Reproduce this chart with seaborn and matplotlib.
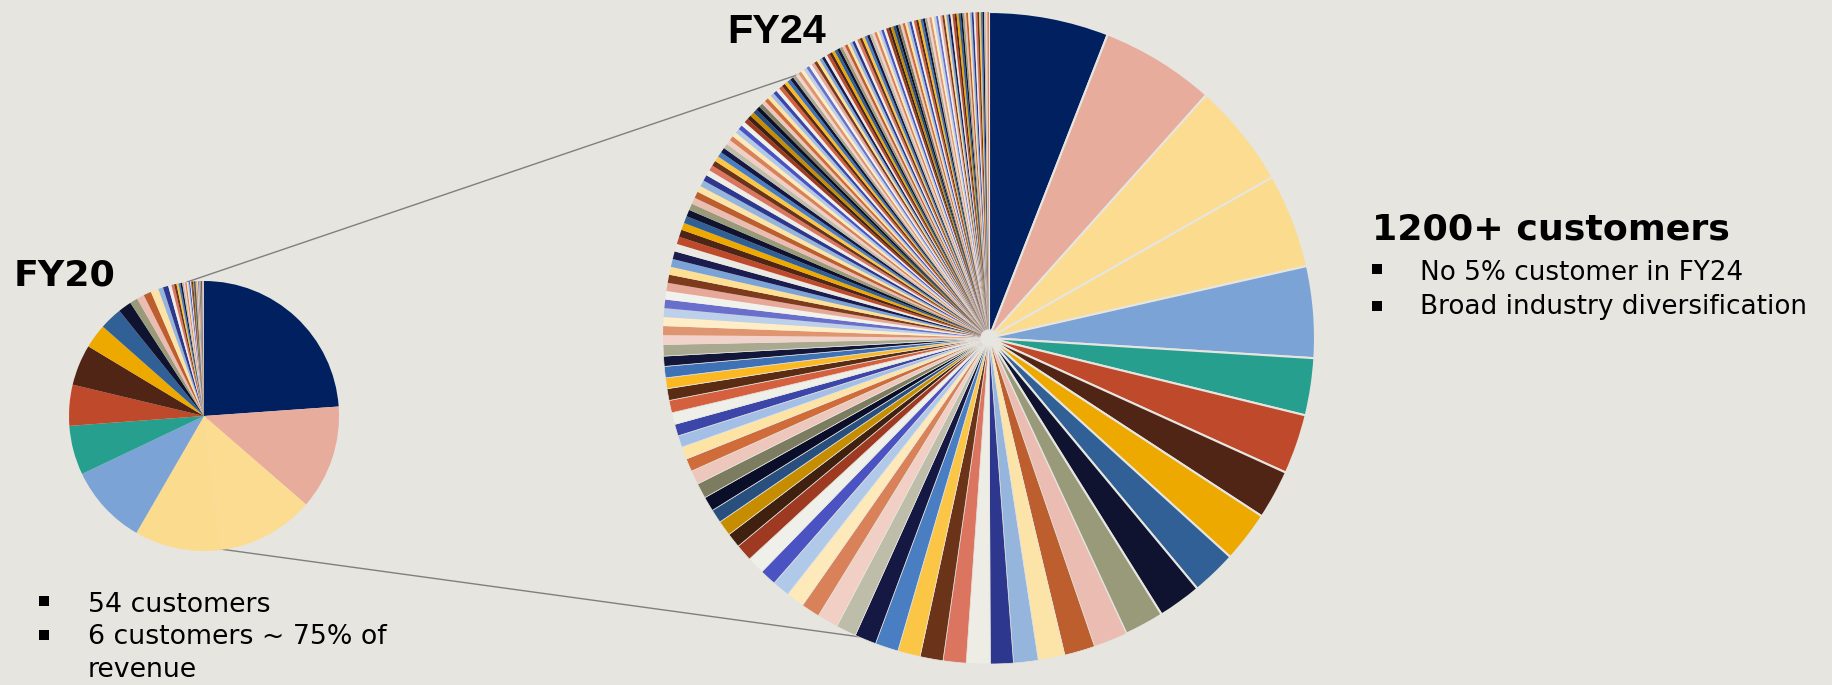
import matplotlib
matplotlib.use("Agg")
import matplotlib.pyplot as plt
import seaborn as sns

# ---------------- data (revenue share in %) ----------------
fy20_top = [23.9, 12.5, 11.7, 10.3, 9.6, 5.9, 4.9, 4.9, 2.9, 2.7, 1.6,
            0.94, 0.89, 0.92, 0.94, 0.58, 0.64]
fy20_tail = [0.39, 0.33, 0.28, 0.25, 0.22, 0.22, 0.19, 0.17, 0.17, 0.14, 0.14, 0.14,
             0.11, 0.11, 0.11, 0.11, 0.08, 0.08, 0.08, 0.08, 0.08, 0.08,
             0.06, 0.06, 0.06, 0.06, 0.06, 0.06, 0.06, 0.06, 0.04, 0.04, 0.04,
             0.03, 0.03, 0.03, 0.03]

fy24_top = [5.89, 5.64, 5.14, 4.64, 4.50, 2.81, 2.94, 2.42, 2.50, 2.22, 2.14]
fy24_mid = [1.94, 1.67, 1.50, 1.31, 1.21, 1.13, 1.17, 1.13, 1.13, 1.11, 1.14, 1.06,
            1.00, 1.03, 0.92, 0.89, 0.86, 0.81, 0.86, 0.83, 0.72, 0.75, 0.67, 0.72,
            0.75, 0.69, 0.64, 0.61, 0.58, 0.58, 0.58, 0.61, 0.58, 0.53, 0.56, 0.50, 0.56]
fy24_small = [0.46, 0.44, 0.44, 0.43, 0.42, 0.42, 0.40, 0.40, 0.39, 0.39, 0.38, 0.38,
              0.36, 0.36, 0.35, 0.35, 0.33, 0.33, 0.32, 0.32, 0.31, 0.31, 0.29, 0.28]
fy24_smaller = [0.27, 0.26, 0.26, 0.25, 0.25, 0.24, 0.24, 0.23, 0.23, 0.23, 0.22, 0.22,
                0.21, 0.21, 0.21, 0.20, 0.20, 0.20, 0.19, 0.19, 0.19, 0.18, 0.18, 0.18,
                0.18, 0.17, 0.17, 0.17, 0.17, 0.16, 0.16, 0.16, 0.16, 0.16, 0.15, 0.15,
                0.15, 0.15, 0.15, 0.14, 0.14, 0.14, 0.14, 0.14, 0.14, 0.14]
fy24_tiny = [0.14, 0.14, 0.14, 0.14, 0.13, 0.13, 0.13, 0.13, 0.13, 0.13, 0.13, 0.13,
             0.13, 0.13, 0.12, 0.12, 0.12, 0.12, 0.12, 0.12, 0.12, 0.12, 0.12, 0.12,
             0.12, 0.12, 0.12, 0.12, 0.11, 0.11, 0.11, 0.11, 0.11, 0.11, 0.11, 0.11,
             0.11, 0.11, 0.11, 0.11, 0.11, 0.11, 0.10, 0.10, 0.10, 0.10, 0.10, 0.10,
             0.10, 0.10, 0.10, 0.10, 0.10, 0.10, 0.09, 0.09, 0.09, 0.09, 0.09, 0.09,
             0.09, 0.09, 0.09, 0.09, 0.08, 0.08, 0.08, 0.08, 0.08, 0.08]

title_fy20 = "FY20"
title_fy24 = "FY24"
headline = "1200+ customers"
bullets_fy24 = ["No 5% customer in FY24", "Broad industry diversification"]
bullets_fy20 = ["54 customers", "6 customers ~ 75% of", "revenue"]

# ---------------- style ----------------
PALETTE = [
    "#002060", "#E8AC9D", "#FCDC90", "#FBDB8E", "#7BA3D6", "#269F8F",
    "#BF4A2B", "#512515", "#EDA900", "#316097", "#10132F", "#989A7A",
    "#EBBDB2", "#BC5E2D", "#FCE3A8", "#95B5DD", "#2D378E", "#EDEDE6",
    "#DC7560", "#6B3419", "#FBC646", "#4A7EC3", "#141843", "#BEBDAA",
    "#F2CFC5", "#D9825A", "#FDE9B9", "#B1C9E8", "#4B53C2", "#F0F0EA",
    "#9E3A22", "#40200F", "#C68D00", "#284F7E", "#0B0E28", "#7C7D60",
    "#EDC6BC", "#D06C3A", "#FDE4A5", "#A3BFE5", "#3C45A8", "#EEEFE9",
    "#D5603F", "#5A2C14", "#FBB823", "#3F71B6", "#121638", "#A9A990",
    "#F2D3CB", "#DF9570", "#FEEDC6", "#BCD0EA", "#6A6FCC", "#F2F2EC",
    "#E8A899", "#7E3A1C", "#FDE093", "#7CA3D8", "#1B1D4F", "#E9E8E2",
]


def color_for(i):
    if i < len(PALETTE):
        return PALETTE[i]
    return PALETTE[6 + (i - 6) % 54]


W, H = 1833, 685
BG = "#E6E5DF"

sns.set_theme(style="white")
plt.rcParams["font.family"] = ["DejaVu Sans"]

fig = plt.figure(figsize=(W / 100, H / 100), dpi=100, facecolor=BG)
ax = fig.add_axes([0, 0, 1, 1])
ax.set_facecolor(BG)


def Y(y):
    return H - y


# FY20 pie
fy20 = fy20_top + fy20_tail
w20, _ = ax.pie(fy20, colors=[color_for(i) for i in range(len(fy20))],
                startangle=90, counterclock=False, center=(204, Y(416)), radius=135,
                wedgeprops=dict(linewidth=0), frame=True)

# FY24 pie
fy24 = fy24_top + fy24_mid + fy24_small + fy24_smaller + fy24_tiny
w24, _ = ax.pie(fy24, colors=[color_for(i) for i in range(len(fy24))],
                startangle=90, counterclock=False, center=(989, Y(338)), radius=326,
                wedgeprops=dict(linewidth=0), frame=True)
for i, w in enumerate(w24):
    if i < len(fy24_top) + 1:
        w.set_edgecolor(BG)
        w.set_linewidth(1.5)
    elif i < len(fy24_top) + len(fy24_mid):
        w.set_edgecolor(BG)
        w.set_linewidth(0.5)
ax.add_patch(plt.Circle((989, Y(338)), 8, color=BG, zorder=5))

# connector lines
ax.plot([187, 797], [Y(282), Y(75)], color="#7F7F7F", lw=1.0, zorder=0.5)
ax.plot([220, 868], [Y(549), Y(638)], color="#7F7F7F", lw=1.0, zorder=0.5)

ax.set_xlim(0, W)
ax.set_ylim(0, H)
ax.axis("off")

renderer = fig.canvas.get_renderer()


def fitted_size(s, width, **kw):
    t = ax.text(0, 0, s, fontsize=20, **kw)
    w = t.get_window_extent(renderer=renderer).width
    t.remove()
    return 20 * width / w


def put(x, ybase, s, size, **kw):
    ax.text(x, Y(ybase), s, fontsize=size, ha="left", va="baseline", color="black", **kw)


# titles
put(14, 286, title_fy20, fitted_size(title_fy20, 102, fontweight="bold"), fontweight="bold")
fy24_font = ["Liberation Sans", "DejaVu Sans"]
put(727, 43, title_fy24, fitted_size(title_fy24, 99, fontweight="bold", family=fy24_font),
    fontweight="bold", family=fy24_font)
put(1372, 240, headline, fitted_size(headline, 358, fontweight="bold"), fontweight="bold")

# right bullets
rs = fitted_size(bullets_fy24[0], 322)
for s, yb in zip(bullets_fy24, [280, 314]):
    put(1420, yb, s, rs)
ax.scatter([1377.5, 1377.5], [Y(269), Y(305.5)], marker="s", s=42, color="black",
           linewidths=0)

# left bullets
ls = fitted_size(bullets_fy20[0], 182)
for s, yb in zip(bullets_fy20, [612, 644, 677]):
    put(88, yb, s, ls)
ax.scatter([44.5, 44.5], [Y(601), Y(634.5)], marker="s", s=42, color="black", linewidths=0)

fig.savefig("out.png", dpi=100, facecolor=BG)
